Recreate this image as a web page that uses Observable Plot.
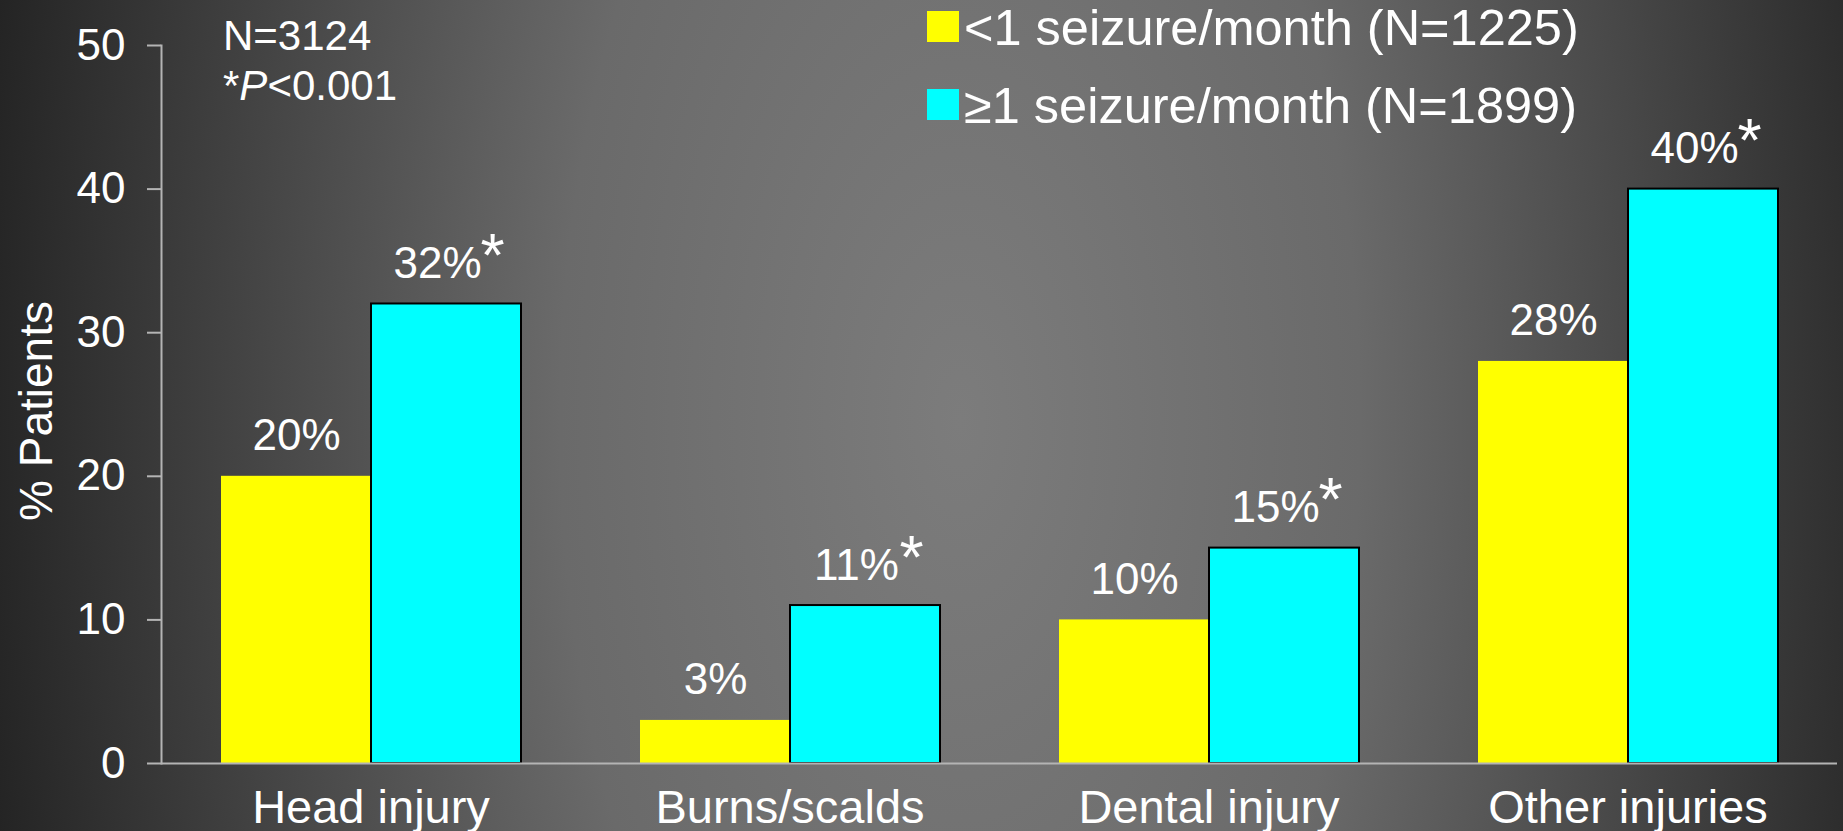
<!DOCTYPE html>
<html>
<head>
<meta charset="utf-8">
<script src="https://cdn.jsdelivr.net/npm/d3@7"></script>
<script src="https://cdn.jsdelivr.net/npm/@observablehq/plot@0.6"></script>
<style>
  html, body { margin: 0; padding: 0; }
  body {
    width: 1843px; height: 831px; overflow: hidden;
    background: radial-gradient(ellipse 1000px 2000px at 960px 420px, #7c7c7c 0%, #6a6a6a 40%, #222 100%);
    font-family: "Liberation Sans", Arial, sans-serif;
  }
  #chart { position: relative; width: 1843px; height: 831px; }
</style>
</head>
<body>
<div id="chart"></div>
<script>
// ---- data ----
const categories = ["Head injury", "Burns/scalds", "Dental injury", "Other injuries"];
const seriesNames = ["<1 seizure/month (N=1225)", "\u22651 seizure/month (N=1899)"];
const lowValues = [20, 3, 10, 28];
const highValues = [32, 11, 15, 40];
const highSignificant = [true, true, true, true];
const seriesColors = ["#ffff00", "#00ffff"];
const yTicks = [0, 10, 20, 30, 40, 50];
const yLabel = "% Patients";
const noteTotal = "N=3124";
const notePValue = ["*", "P", "<0.001"];

const rows = categories.flatMap((c, i) => [
  {category: c, series: seriesNames[0], value: lowValues[i], sig: false},
  {category: c, series: seriesNames[1], value: highValues[i], sig: highSignificant[i]}
]);
const lowRows = rows.filter(d => d.series === seriesNames[0]);
const highRows = rows.filter(d => d.series === seriesNames[1]);

const font = '"Liberation Sans", Arial, sans-serif';
const axisColor = "#b4b4b4";

const chart = Plot.plot({
  width: 1843,
  height: 831,
  marginLeft: 161,
  marginRight: 6,
  marginTop: 45,
  marginBottom: 68,
  style: {background: "transparent", color: "white", fontFamily: font, fontSize: "44px", overflow: "visible"},
  fx: {domain: categories, padding: 0, label: null, axis: null},
  x: {domain: seriesNames, paddingInner: 0, paddingOuter: 0.393, axis: null},
  y: {domain: [0, 50], axis: null},
  color: {domain: seriesNames, range: seriesColors},
  marks: [
    Plot.barY(lowRows, {fx: "category", x: "series", y: "value", fill: "series"}),
    Plot.barY(highRows, {fx: "category", x: "series", y: "value", fill: "series", stroke: "black", strokeWidth: 2}),
    Plot.ruleY([0], {stroke: axisColor, strokeWidth: 2}),
    Plot.frame({anchor: "left", facetAnchor: "left", stroke: axisColor, strokeWidth: 2}),
    Plot.axisY({ticks: yTicks, tickSize: 14, tickPadding: 22, fontSize: 44, label: null, stroke: axisColor, strokeWidth: 2, fill: "white"}),
    Plot.axisFx({anchor: "bottom", tickSize: 0, tickPadding: 26, fontSize: 47, label: null, fill: "white"}),
    Plot.text(lowRows, {fx: "category", x: "series", y: "value", text: d => d.value + "%", lineAnchor: "bottom", dy: -26, fill: "white", fontSize: 44}),
    Plot.text(highRows, {fx: "category", x: "series", y: "value", text: d => d.value + "%", lineAnchor: "bottom", dy: -26, dx: -9, fill: "white", fontSize: 44}),
    Plot.text(highRows.filter(d => d.sig), {fx: "category", x: "series", y: "value", text: () => "*", lineAnchor: "bottom", textAnchor: "start", dy: -28, dx: 34, fill: "white", fontSize: 62})
  ]
});

document.getElementById("chart").appendChild(chart);

// ---- annotations, y label, legend (drawn into the same SVG) ----
const svg = d3.select(chart);
const color = chart.scale("color");

svg.append("text")
  .attr("transform", "translate(52,411) rotate(-90)")
  .attr("text-anchor", "middle")
  .attr("fill", "white")
  .attr("font-size", 46)
  .attr("font-family", font)
  .text(yLabel);

const notes = svg.append("g").attr("fill", "white").attr("font-size", 42).attr("font-family", font).attr("text-anchor", "start");
notes.append("text").attr("x", 223).attr("y", 50).text(noteTotal);
const pLine = notes.append("text").attr("x", 223).attr("y", 100);
pLine.append("tspan").text(notePValue[0]);
pLine.append("tspan").attr("font-style", "italic").text(notePValue[1]);
pLine.append("tspan").text(notePValue[2]);

const legend = svg.append("g").attr("font-family", font).attr("font-size", 50.5).attr("text-anchor", "start");
color.domain.forEach((name, i) => {
  const g = legend.append("g").attr("transform", `translate(927,${11 + i * 78})`);
  g.append("rect").attr("width", 32).attr("height", 31).attr("fill", color.range[i]);
  g.append("text").attr("x", 37).attr("y", 34).attr("fill", "white").text(name);
});
</script>
</body>
</html>
